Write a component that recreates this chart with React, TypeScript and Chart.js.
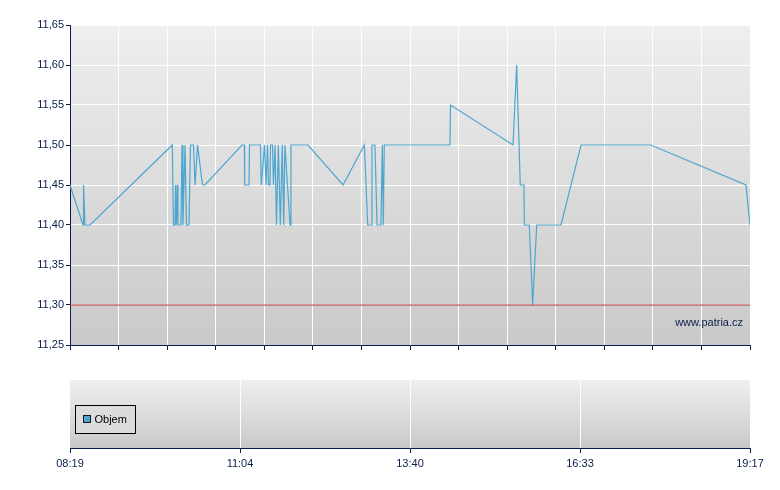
import React, { useEffect, useRef } from "react";
import { Chart, registerables } from "chart.js";

Chart.register(...registerables);

// ---- DATA ----
const SESSION_MINUTES = 658; // 08:19 -> 19:17
// minutes after 08:19 for each trade
const priceTimes = [
  0, 12.6, 13.1, 14.5, 19.4, 99.0, 100.1, 101.6, 102.1, 102.9, 103.8, 104.5, 107.4, 108.4, 109.3,
  111.3, 112.7, 115.1, 116.6, 119.5, 121.0, 123.4, 128.2, 130.6, 166.4, 168.7, 169.0, 173.2, 173.7,
  184.3, 185.1, 188.2, 189.7, 191.1, 192.1, 193.5, 194.0, 195.9, 196.9, 198.4, 199.8, 201.6, 203.5,
  205.4, 206.8, 208.0, 212.9, 213.8, 230.3, 264.2, 284.8, 288.1, 291.3, 292.2, 295.1, 297.1, 300.9,
  302.2, 303.2, 304.1, 367.7, 368.2, 428.7, 432.2, 435.7, 439.3, 439.6, 444.4, 447.7, 451.6, 475.1,
  494.5, 561.9, 654.1, 658,
];
const priceValues = [
  11.45, 11.4, 11.45, 11.4, 11.4, 11.5, 11.4, 11.4, 11.45, 11.4, 11.45, 11.4, 11.4, 11.5, 11.4,
  11.5, 11.4, 11.4, 11.5, 11.5, 11.45, 11.5, 11.45, 11.45, 11.5, 11.5, 11.45, 11.45, 11.5,
  11.5, 11.45, 11.5, 11.45, 11.5, 11.45, 11.45, 11.5, 11.5, 11.45, 11.5, 11.4, 11.5, 11.4,
  11.5, 11.4, 11.5, 11.4, 11.5, 11.5, 11.45, 11.5, 11.4, 11.4, 11.5, 11.5, 11.4, 11.4,
  11.5, 11.4, 11.5, 11.5, 11.55, 11.5, 11.6, 11.45, 11.45, 11.4, 11.4, 11.3, 11.4, 11.4,
  11.5, 11.5, 11.45, 11.4,
];
const referencePrice = 11.3;
const yMin = 11.25;
const yMax = 11.65;
const yStep = 0.05;
const topGridStep = 47; // minutes between vertical grid lines
const timeLabels = ["08:19", "11:04", "13:40", "16:33", "19:17"];
const volumeLabel = "Objem";
const volumeValues: { x: number; y: number }[] = [];
const watermark = "www.patria.cz";

// ---- STYLE ----
const NAVY = "#0b1d4d";
const LINE = "#4ca6d0";
const RED = "#b83232";
const FONT = "Arial, 'Liberation Sans', sans-serif";

const bgPlugin = {
  id: "bgGradient",
  beforeDraw(chart: any) {
    const { ctx, chartArea: a } = chart;
    if (!a) return;
    const g = ctx.createLinearGradient(0, a.top, 0, a.bottom);
    g.addColorStop(0, "#efefef");
    g.addColorStop(1, "#c9c9c9");
    ctx.save();
    ctx.fillStyle = g;
    ctx.fillRect(a.left, a.top, a.right - a.left, a.bottom - a.top);
    ctx.restore();
  },
};

const watermarkPlugin = {
  id: "watermark",
  afterDatasetsDraw(chart: any) {
    const { ctx, chartArea: a } = chart;
    ctx.save();
    ctx.font = `11px ${FONT}`;
    ctx.fillStyle = NAVY;
    ctx.textAlign = "right";
    ctx.textBaseline = "middle";
    ctx.fillText(watermark, a.right - 7, a.bottom - 22);
    ctx.restore();
  },
};

const legendPlugin = {
  id: "boxLegend",
  afterDraw(chart: any) {
    const { ctx, chartArea: a } = chart;
    const label = chart.data.datasets[0].label;
    ctx.save();
    ctx.font = `11px ${FONT}`;
    const x = a.left + 5.5;
    const y = a.top + 25.5;
    const w = 60;
    const h = 28;
    ctx.fillStyle = "#dcdcdc";
    ctx.fillRect(x, y, w, h);
    ctx.strokeStyle = "#000";
    ctx.lineWidth = 1;
    ctx.strokeRect(x, y, w, h);
    ctx.fillStyle = LINE;
    ctx.fillRect(x + 8, y + 10, 7, 7);
    ctx.strokeStyle = "#1a1a1a";
    ctx.strokeRect(x + 8, y + 10, 7, 7);
    ctx.fillStyle = "#000";
    ctx.textBaseline = "middle";
    ctx.textAlign = "left";
    ctx.fillText(label, x + 19, y + 14.5);
    ctx.restore();
  },
};

export default function App() {
  const topRef = useRef<HTMLCanvasElement>(null);
  const botRef = useRef<HTMLCanvasElement>(null);

  useEffect(() => {
    Chart.defaults.font.family = FONT;
    Chart.defaults.font.size = 11;
    Chart.defaults.color = NAVY;

    const points = priceTimes.map((t, i) => ({ x: t, y: priceValues[i] }));
    const refLine = [
      { x: 0, y: referencePrice },
      { x: SESSION_MINUTES, y: referencePrice },
    ];

    const top = new Chart(topRef.current!, {
      type: "line",
      data: {
        datasets: [
          {
            label: "ref",
            data: refLine,
            borderColor: RED,
            borderWidth: 1,
            pointRadius: 0,
            tension: 0,
          },
          {
            label: "Cena",
            data: points,
            borderColor: LINE,
            borderWidth: 1.2,
            pointRadius: 0,
            tension: 0,
          },
        ],
      },
      options: {
        responsive: false,
        animation: false,
        layout: { padding: { top: 25, right: 30, left: 0, bottom: 0 } },
        plugins: { legend: { display: false }, tooltip: { enabled: false } },
        scales: {
          x: {
            type: "linear",
            min: 0,
            max: SESSION_MINUTES,
            ticks: { stepSize: topGridStep, callback: () => "", autoSkip: false, maxRotation: 0 },
            grid: {
              color: (c: any) => (c.index === 0 ? "rgba(0,0,0,0)" : "#ffffff"),
              tickColor: NAVY,
              tickLength: 5,
            },
            border: { color: NAVY, width: 1 },
            afterFit: (s: any) => {
              s.height = 15;
            },
          },
          y: {
            min: yMin,
            max: yMax,
            ticks: {
              stepSize: yStep,
              padding: 2,
              color: NAVY,
              callback: (v: any) => Number(v).toFixed(2).replace(".", ","),
            },
            grid: {
              color: (c: any) =>
                c.tick && Math.abs(c.tick.value - yMin) < 1e-6 ? "rgba(0,0,0,0)" : "#ffffff",
              tickColor: NAVY,
              tickLength: 4,
            },
            border: { color: NAVY, width: 1 },
            afterFit: (s: any) => {
              s.width = 70;
            },
          },
        },
      },
      plugins: [bgPlugin, watermarkPlugin],
    } as any);

    const bottomTicks = timeLabels.map((_, i) => (SESSION_MINUTES * i) / (timeLabels.length - 1));

    const bot = new Chart(botRef.current!, {
      type: "bar",
      data: {
        datasets: [
          {
            label: volumeLabel,
            data: volumeValues,
            backgroundColor: LINE,
          },
        ],
      },
      options: {
        responsive: false,
        animation: false,
        layout: { padding: { top: 20, right: 30, left: 70, bottom: 0 } },
        plugins: { legend: { display: false }, tooltip: { enabled: false } },
        scales: {
          x: {
            type: "linear",
            min: 0,
            max: SESSION_MINUTES,
            offset: false,
            afterBuildTicks: (s: any) => {
              s.ticks = bottomTicks.map((v) => ({ value: v }));
            },
            ticks: {
              autoSkip: false,
              maxRotation: 0,
              padding: 4,
              color: NAVY,
              callback: (_v: any, i: number) => timeLabels[i],
            },
            grid: {
              offset: false,
              color: (c: any) => (c.index === 0 ? "rgba(0,0,0,0)" : "#ffffff"),
              tickColor: NAVY,
              tickLength: 5,
            },
            border: { color: NAVY, width: 1 },
            afterFit: (s: any) => {
              s.height = 42;
            },
          },
          y: { display: false, min: 0, max: 1 },
        },
      },
      plugins: [bgPlugin, legendPlugin],
    } as any);

    return () => {
      top.destroy();
      bot.destroy();
    };
  }, []);

  return (
    <div style={{ position: "absolute", left: 0, top: 0, width: 780, height: 490, background: "#fff" }}>
      <canvas ref={topRef} width={780} height={360} style={{ position: "absolute", left: 0, top: 0 }} />
      <canvas ref={botRef} width={780} height={130} style={{ position: "absolute", left: 0, top: 360 }} />
    </div>
  );
}
